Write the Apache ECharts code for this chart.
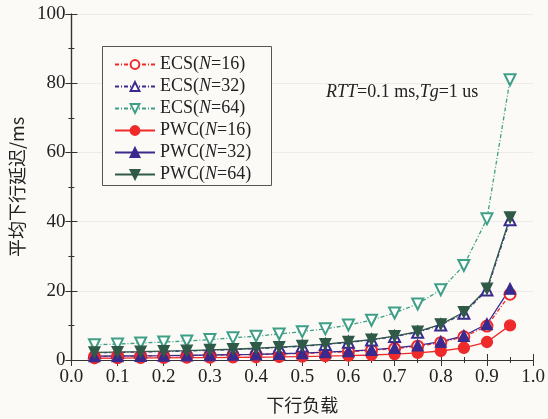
<!DOCTYPE html>
<html><head><meta charset="utf-8">
<script src="https://cdn.jsdelivr.net/npm/echarts@6/dist/echarts.min.js"></script>
<style>html,body{margin:0;padding:0;background:#fcfaf7}#c{width:548px;height:419px}</style>
</head><body><div id="c"></div>
<script>
const loads = [0.05,0.10,0.15,0.20,0.25,0.30,0.35,0.40,0.45,0.50,0.55,0.60,0.65,0.70,0.75,0.80,0.85,0.90,0.95];
const ecs16 = [1.0,1.1,1.15,1.2,1.3,1.4,1.5,1.6,1.75,1.9,2.1,2.4,2.8,3.3,4.0,5.0,6.7,9.8,19.0];
const ecs32 = [2.1,2.2,2.3,2.45,2.6,2.8,3.0,3.3,3.6,4.0,4.5,5.1,5.8,6.8,8.0,10.1,13.5,20.2,40.5];
const ecs64 = [4.4,4.6,4.9,5.2,5.5,5.9,6.4,6.9,7.5,8.2,9.0,10.1,11.5,13.6,16.2,20.3,27.3,40.8,81.0];
const pwc16 = [0.5,0.55,0.6,0.62,0.66,0.7,0.75,0.8,0.88,0.98,1.1,1.25,1.45,1.7,2.05,2.6,3.5,5.2,10.0];
const pwc32 = [1.1,1.15,1.2,1.25,1.35,1.45,1.55,1.65,1.8,2.0,2.25,2.55,2.95,3.5,4.2,5.3,7.0,10.4,20.6];
const pwc64 = [2.2,2.3,2.4,2.55,2.7,2.9,3.1,3.4,3.7,4.1,4.6,5.2,5.9,6.9,8.2,10.3,13.8,20.6,41.2];
const xTicks = [0.0,0.1,0.2,0.3,0.4,0.5,0.6,0.7,0.8,0.9,1.0];
const yTicks = [0,20,40,60,80,100];

const RED='#ee2a2a', PUR='#3a2a8e', TEAL='#3f9f86', DGRN='#2f5a48';
const font='"Liberation Serif","Times New Roman",serif';
function pts(a){return loads.map((x,i)=>[x,a[i]]);}
function legendName(pre,n){return pre+'(N='+n+')';}
const series = [
 {name:legendName('ECS',16),data:pts(ecs16),color:RED,symbol:'emptyCircle',dash:[4,2,1,2],rot:0},
 {name:legendName('ECS',32),data:pts(ecs32),color:PUR,symbol:'emptyTriangle',dash:[4,2,1,2],rot:0},
 {name:legendName('ECS',64),data:pts(ecs64),color:TEAL,symbol:'emptyTriangle',dash:[4,2,1,2],rot:180},
 {name:legendName('PWC',16),data:pts(pwc16),color:RED,symbol:'circle',dash:'solid',rot:0},
 {name:legendName('PWC',32),data:pts(pwc32),color:PUR,symbol:'triangle',dash:'solid',rot:0},
 {name:legendName('PWC',64),data:pts(pwc64),color:DGRN,symbol:'triangle',dash:'solid',rot:180}
].map(s=>({type:'line',name:s.name,data:s.data,symbol:s.symbol,symbolSize:11,symbolRotate:s.rot,
  itemStyle:{color:s.color,borderColor:s.color,borderWidth:1.3},
  lineStyle:{color:s.color,width:1.3,type:s.dash},animation:false}));

const chart = echarts.init(document.getElementById('c'));
const axisCommon = {
  axisLine:{lineStyle:{color:'#333',width:1.2}},
  axisTick:{inside:true,length:6,lineStyle:{color:'#333'}},
  minorTick:{show:true,splitNumber:2,length:3,lineStyle:{color:'#333'}},
};
chart.setOption({
  backgroundColor:'#fcfaf7',
  grid:{left:68,right:12,top:14,bottom:58},
  xAxis:[
   Object.assign({type:'value',min:0,max:1,interval:0.1,position:'bottom',
    axisLabel:{color:'#222',fontFamily:font,fontSize:19,margin:8,formatter:v=>v.toFixed(1)},
    splitLine:{show:false},
    name:'下行负载',nameLocation:'middle',nameGap:36,
    nameTextStyle:{fontFamily:'"Noto Sans CJK SC",serif',fontSize:18,color:'#222'}},axisCommon),
   Object.assign({type:'value',min:0,max:1,interval:0.1,position:'top',axisLabel:{show:false},splitLine:{show:false}},axisCommon)
  ],
  yAxis:[
   Object.assign({type:'value',min:0,max:100,interval:20,position:'left',
    axisLabel:{color:'#222',fontFamily:font,fontSize:19,margin:6},
    splitLine:{show:true,lineStyle:{color:'#ddd',type:'dotted'}},
    name:'平均下行延迟/ms',nameLocation:'middle',nameGap:44,nameRotate:90,
    nameTextStyle:{fontFamily:'"Noto Sans CJK SC",serif',fontSize:18,color:'#222'}},axisCommon),
   Object.assign({type:'value',min:0,max:100,interval:20,position:'right',axisLabel:{show:false},splitLine:{show:false}},axisCommon)
  ],
  legend:{orient:'vertical',left:102,top:46,padding:[9,10,3,12],itemGap:3,itemWidth:40,itemHeight:11,
    borderWidth:0,backgroundColor:'transparent',z:5,
    formatter:function(name){const m=name.match(/^(\w+)\(N=(\d+)\)$/);return '{a|'+m[1]+'(}{i|N}{a|='+m[2]+')}';},
    textStyle:{fontFamily:font,fontSize:18,color:'#222',lineHeight:19,
      rich:{a:{fontFamily:font,fontSize:18,color:'#222',lineHeight:19},i:{fontFamily:font,fontSize:18,fontStyle:'italic',color:'#222',lineHeight:19}}},
    data:series.map(s=>s.name)},
  graphic:[
   {type:'rect',z:4,shape:{x:102.5,y:46.5,width:169,height:139},style:{fill:'#fcfaf7',stroke:'#555',lineWidth:1}},
   {type:'text',left:326,top:83,style:{
    text:'{i|RTT}{a|=0.1 ms,}{i|Tg}{a|=1 us}',
    rich:{a:{fontFamily:font,fontSize:18,fill:'#222'},i:{fontFamily:font,fontSize:18,fontStyle:'italic',fill:'#222'}}}}],
  series:series
});
</script></body></html>
